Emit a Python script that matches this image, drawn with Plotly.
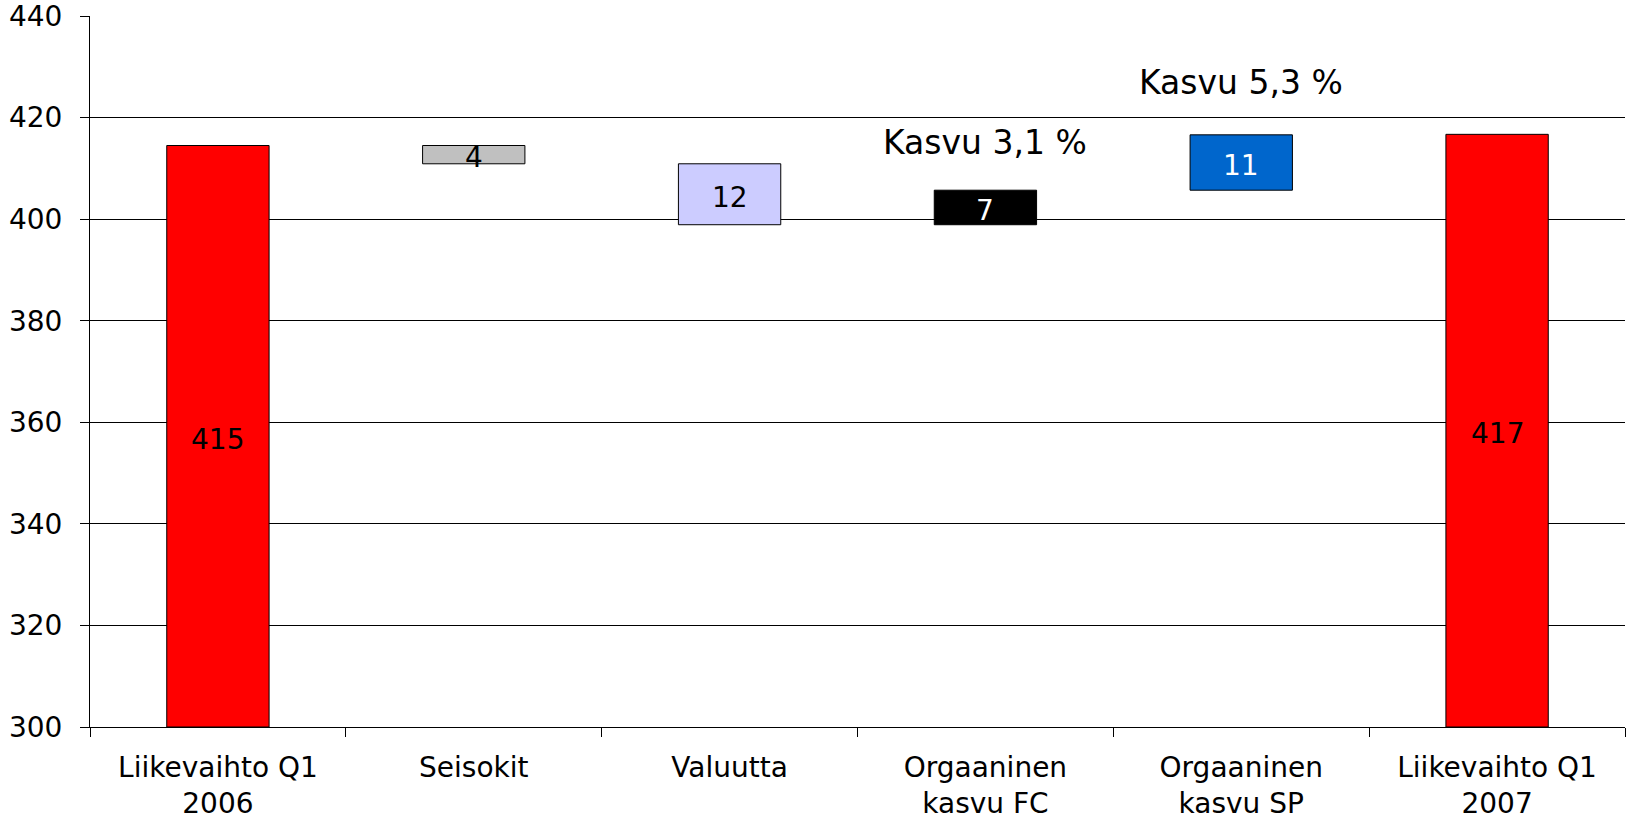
import plotly.graph_objects as go

# ---- data ----
categories = ["Liikevaihto Q1<br>2006", "Seisokit", "Valuutta",
              "Orgaaninen<br>kasvu FC", "Orgaaninen<br>kasvu SP", "Liikevaihto Q1<br>2007"]
start_value = 414.5
changes = [-3.6, -12.0, 6.8, 10.9]
end_value = 416.7
labels = ["415", "4", "12", "7", "11", "417"]
colors = ["#FF0000", "#C0C0C0", "#CCCCFF", "#000000", "#0066CC", "#FF0000"]
text_colors = ["black", "black", "black", "white", "white", "black"]
growth_texts = ["Kasvu 3,1 %", "Kasvu 5,3 %"]
growth_x = ["Orgaaninen<br>kasvu FC", "Orgaaninen<br>kasvu SP"]
growth_y = [415, 427]
y_min, y_max = 300, 440

# ---- derived waterfall geometry ----
bases = [y_min]
heights = [start_value - y_min]
level = start_value
for d in changes:
    bases.append(min(level, level + d))
    heights.append(abs(d))
    level += d
bases.append(y_min)
heights.append(end_value - y_min)
mids = [b + h / 2 for b, h in zip(bases, heights)]

FONT = "DejaVu Sans, Verdana, sans-serif"

fig = go.Figure()
fig.add_trace(go.Bar(
    x=categories, y=heights, base=bases,
    marker=dict(color=colors, line=dict(color="black", width=1)),
    width=0.4, hoverinfo="skip", showlegend=False,
))
for cat, m, lab, tc in zip(categories, mids, labels, text_colors):
    fig.add_annotation(x=cat, y=m, text=lab, showarrow=False, yshift=-3,
                       font=dict(family=FONT, size=28, color=tc))
for t, gx, gy in zip(growth_texts, growth_x, growth_y):
    fig.add_annotation(x=gx, y=gy, text=t, showarrow=False,
                       font=dict(family=FONT, size=33, color="black"))

fig.update_layout(
    width=1634, height=819,
    margin=dict(l=90, r=9, t=16, b=92, autoexpand=False),
    paper_bgcolor="white", plot_bgcolor="white",
    font=dict(family=FONT, size=28, color="black"),
    bargap=0.6,
)
fig.update_xaxes(
    automargin=False,
    showline=True, linecolor="black", linewidth=1,
    ticks="outside", tickson="boundaries", ticklen=9, tickcolor="black",
    ticklabelstandoff=15, ticklabeloverflow="allow",
    tickfont=dict(family=FONT, size=28, color="black"),
    showgrid=False, zeroline=False,
)
fig.update_yaxes(
    automargin=False,
    range=[y_min, y_max], dtick=20, tick0=300,
    showline=True, linecolor="black", linewidth=1,
    ticks="outside", ticklen=9, tickcolor="black",
    ticklabelstandoff=12, ticklabeloverflow="allow",
    showgrid=True, gridcolor="black", gridwidth=1,
    tickfont=dict(family=FONT, size=28, color="black"),
    zeroline=False,
)

# remove the default 8px page margin so the figure fills the window exactly
fig.write_html("out.html", config={"displayModeBar": False},
               post_script="document.body.style.margin='0';")
